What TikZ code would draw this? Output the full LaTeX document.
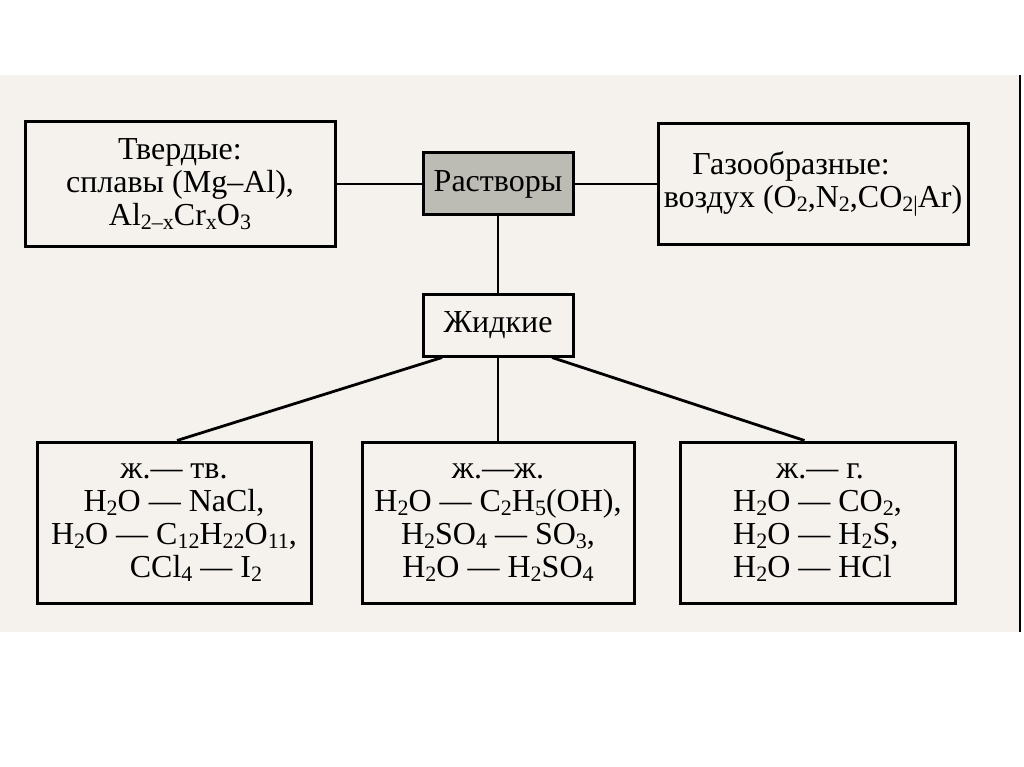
\documentclass[tikz,border=0pt]{standalone}
\usepackage{fontspec}
\setmainfont{Liberation Serif}
\definecolor{paper}{RGB}{245,242,237}
\definecolor{rastfill}{RGB}{188,188,180}
\newcommand\lo[1]{\raisebox{-4pt}{\fontsize{22}{22}\selectfont #1}}
\begin{document}
\begin{tikzpicture}[x=1pt,y=-1pt,
  box/.style={draw=black, line width=3pt, inner sep=0pt, align=center,
    font=\fontsize{32}{33}\selectfont, text=black},
  conn/.style={line width=2.8pt}]
\useasboundingbox (0,0) rectangle (1024,767);
\fill[paper] (0,75) rectangle (1019,632);
\draw[line width=2pt] (1020,75) -- (1020,632);

\node[box, fill=rastfill, minimum width=150pt, minimum height=62pt] (rast) at (498,184) {Растворы};
\node[box, minimum width=310pt, minimum height=124pt] (tv) at (180,184)
  {Твердые:\\сплавы (Mg–Al),\\Al\lo{2–x}Cr\lo{x}O\lo{3}};
\node[box, minimum width=310pt, minimum height=120pt] (gaz) at (813,184)
  {Газообразные:\hspace*{44pt}\\воздух (O\lo{2},N\lo{2},CO\lo{2}\lo{|}Ar)};
\node[box, minimum width=150pt, minimum height=62pt] (zhid) at (498,325) {Жидкие};
\node[box, minimum width=274pt, minimum height=161pt] (b1) at (174,522.5)
  {ж.— тв.\\H\lo{2}O — NaCl,\\H\lo{2}O — C\lo{12}H\lo{22}O\lo{11},\\\hspace*{44pt}CCl\lo{4} — I\lo{2}};
\node[box, minimum width=272pt, minimum height=161pt] (b2) at (498,522.5)
  {ж.—ж.\\H\lo{2}O — C\lo{2}H\lo{5}(OH),\\H\lo{2}SO\lo{4} — SO\lo{3},\\H\lo{2}O — H\lo{2}SO\lo{4}};
\node[box, align=left, minimum width=275pt, minimum height=161pt] (b3) at (817.5,522.5)
  {\hspace*{43pt}ж.— г.\\H\lo{2}O — CO\lo{2},\\H\lo{2}O — H\lo{2}S,\\H\lo{2}O — HCl};

\draw[conn] (tv.east) -- (rast.west);
\draw[conn] (rast.east) -- (gaz.west);
\draw[conn] (rast.south) -- (zhid.north);
\draw[conn] ([xshift=-56pt]zhid.south) -- ([xshift=3pt]b1.north);
\draw[conn] (zhid.south) -- (b2.north);
\draw[conn] ([xshift=54pt]zhid.south) -- ([xshift=-13pt]b3.north);
\end{tikzpicture}
\end{document}
